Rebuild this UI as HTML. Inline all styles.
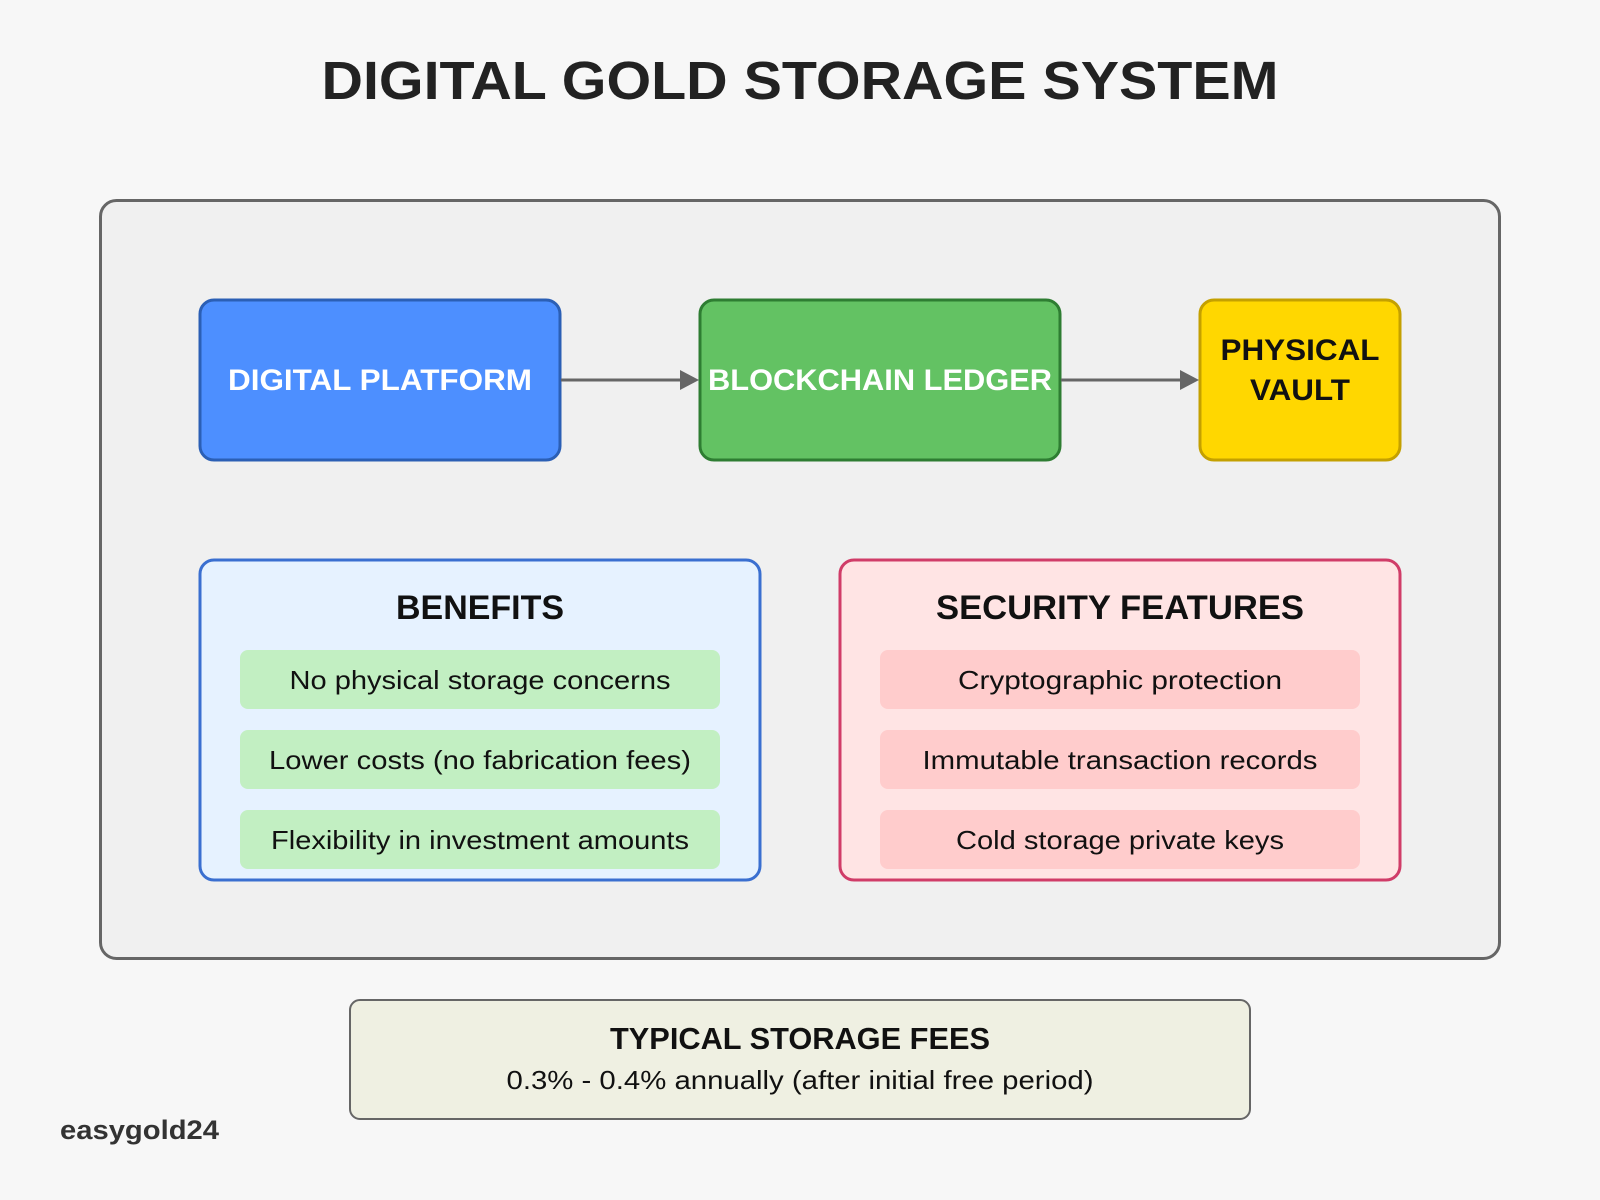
<!DOCTYPE html>
<html><head><meta charset="utf-8"><style>
html,body{margin:0;padding:0;background:#f7f7f7;}
svg{display:block;font-family:"Liberation Sans",sans-serif;}
</style></head><body>
<svg width="1600" height="1200" viewBox="0 0 1600 1200">
<rect width="1600" height="1200" fill="#f7f7f7"/>
<text x="800" y="99" text-anchor="middle" font-size="54" font-weight="bold" fill="#222" textLength="957" lengthAdjust="spacingAndGlyphs">DIGITAL GOLD STORAGE SYSTEM</text>
<rect x="100.5" y="200.5" width="1399" height="758" rx="16" fill="#f0f0f0" stroke="#666" stroke-width="3"/>
<rect x="200" y="300" width="360" height="160" rx="14" fill="#4d8fff" stroke="#2b5fb5" stroke-width="3"/>
<text x="380" y="390" text-anchor="middle" font-size="30" font-weight="bold" fill="#fff" textLength="304" lengthAdjust="spacingAndGlyphs">DIGITAL PLATFORM</text>
<rect x="700" y="300" width="360" height="160" rx="14" fill="#63c263" stroke="#2e7d32" stroke-width="3"/>
<text x="880" y="390" text-anchor="middle" font-size="30" font-weight="bold" fill="#fff" textLength="344" lengthAdjust="spacingAndGlyphs">BLOCKCHAIN LEDGER</text>
<rect x="1200" y="300" width="200" height="160" rx="14" fill="#ffd700" stroke="#c4a000" stroke-width="3"/>
<text x="1300" y="360" text-anchor="middle" font-size="30" font-weight="bold" fill="#111" textLength="159" lengthAdjust="spacingAndGlyphs">PHYSICAL</text>
<text x="1300" y="400" text-anchor="middle" font-size="30" font-weight="bold" fill="#111" textLength="100" lengthAdjust="spacingAndGlyphs">VAULT</text>
<line x1="561" y1="380" x2="682" y2="380" stroke="#666" stroke-width="3"/>
<polygon points="680,370 699,380 680,390" fill="#666"/>
<line x1="1061" y1="380" x2="1182" y2="380" stroke="#666" stroke-width="3"/>
<polygon points="1180,370 1199,380 1180,390" fill="#666"/>
<rect x="200" y="560" width="560" height="320" rx="14" fill="#e6f2ff" stroke="#3a6fd0" stroke-width="3"/>
<text x="480" y="619" text-anchor="middle" font-size="34" font-weight="bold" fill="#111" textLength="168" lengthAdjust="spacingAndGlyphs">BENEFITS</text>
<rect x="240" y="650" width="480" height="59" rx="8" fill="#c2efc2"/>
<rect x="240" y="730" width="480" height="59" rx="8" fill="#c2efc2"/>
<rect x="240" y="810" width="480" height="59" rx="8" fill="#c2efc2"/>
<g font-size="26" fill="#111" text-anchor="middle">
<text x="480" y="689" textLength="381" lengthAdjust="spacingAndGlyphs">No physical storage concerns</text>
<text x="480" y="769" textLength="422" lengthAdjust="spacingAndGlyphs">Lower costs (no fabrication fees)</text>
<text x="480" y="849" textLength="418" lengthAdjust="spacingAndGlyphs">Flexibility in investment amounts</text>
</g>
<rect x="840" y="560" width="560" height="320" rx="14" fill="#ffe4e4" stroke="#d03c68" stroke-width="3"/>
<text x="1120" y="619" text-anchor="middle" font-size="34" font-weight="bold" fill="#111" textLength="368" lengthAdjust="spacingAndGlyphs">SECURITY FEATURES</text>
<rect x="880" y="650" width="480" height="59" rx="8" fill="#ffcccc"/>
<rect x="880" y="730" width="480" height="59" rx="8" fill="#ffcccc"/>
<rect x="880" y="810" width="480" height="59" rx="8" fill="#ffcccc"/>
<g font-size="26" fill="#111" text-anchor="middle">
<text x="1120" y="689" textLength="324" lengthAdjust="spacingAndGlyphs">Cryptographic protection</text>
<text x="1120" y="769" textLength="395" lengthAdjust="spacingAndGlyphs">Immutable transaction records</text>
<text x="1120" y="849" textLength="328" lengthAdjust="spacingAndGlyphs">Cold storage private keys</text>
</g>
<rect x="350" y="1000" width="900" height="119" rx="10" fill="#eff0e2" stroke="#666" stroke-width="2"/>
<text x="800" y="1049" text-anchor="middle" font-size="31" font-weight="bold" fill="#111" textLength="380" lengthAdjust="spacingAndGlyphs">TYPICAL STORAGE FEES</text>
<text x="800" y="1089" text-anchor="middle" font-size="26" fill="#111" textLength="587" lengthAdjust="spacingAndGlyphs">0.3% - 0.4% annually (after initial free period)</text>
<text x="60" y="1139" font-size="27" font-weight="bold" fill="#333" textLength="159" lengthAdjust="spacingAndGlyphs">easygold24</text>
</svg>
</body></html>
